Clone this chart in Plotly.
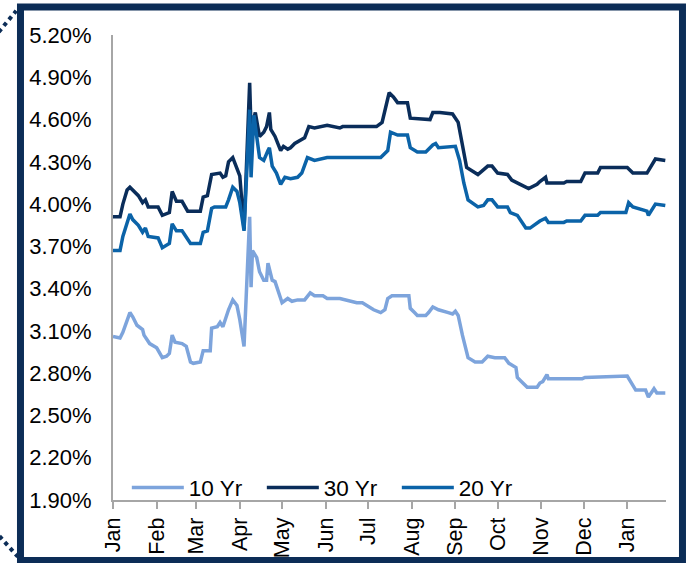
import plotly.graph_objects as go

# ---------------- data ----------------
dates_10y = ["2025-01-01","2025-01-06","2025-01-08","2025-01-11","2025-01-13","2025-01-15","2025-01-18","2025-01-22","2025-01-23","2025-01-27",
             "2025-02-01","2025-02-05","2025-02-08","2025-02-10","2025-02-12","2025-02-14","2025-02-19","2025-02-22","2025-02-25","2025-02-27",
             "2025-03-04","2025-03-06","2025-03-11","2025-03-12","2025-03-16","2025-03-18","2025-03-20","2025-03-24","2025-03-27","2025-03-30",
             "2025-04-01","2025-04-04","2025-04-08","2025-04-09","2025-04-10","2025-04-13","2025-04-15","2025-04-18","2025-04-20","2025-04-21",
             "2025-04-24","2025-04-26","2025-04-28","2025-05-01","2025-05-05","2025-05-08","2025-05-12","2025-05-17","2025-05-21","2025-05-24",
             "2025-05-30","2025-06-02","2025-06-11","2025-06-16","2025-06-23","2025-06-27","2025-07-05","2025-07-10","2025-07-13","2025-07-15",
             "2025-07-18","2025-07-30","2025-07-31","2025-08-03","2025-08-05","2025-08-11","2025-08-13","2025-08-16","2025-08-20","2025-08-27",
             "2025-08-30","2025-09-01","2025-09-03","2025-09-06","2025-09-08","2025-09-10","2025-09-15","2025-09-20","2025-09-24","2025-09-29",
             "2025-10-06","2025-10-09","2025-10-14","2025-10-15","2025-10-18","2025-10-22","2025-10-29","2025-10-31","2025-11-02","2025-11-05",
             "2025-11-06","2025-11-30","2025-12-02","2026-01-01","2026-01-07","2026-01-14","2026-01-16","2026-01-20","2026-01-22","2026-01-28"]
yield_10y = [3.06,3.05,3.09,3.18,3.23,3.20,3.14,3.11,3.07,3.01,
             2.98,2.91,2.92,2.94,3.07,3.02,3.01,2.99,2.88,2.87,
             2.88,2.96,2.96,3.12,3.13,3.16,3.13,3.25,3.32,3.28,
             3.18,2.99,3.91,3.41,3.67,3.62,3.52,3.46,3.46,3.58,
             3.46,3.45,3.39,3.30,3.33,3.31,3.32,3.32,3.37,3.35,
             3.35,3.33,3.33,3.32,3.30,3.30,3.25,3.23,3.25,3.33,
             3.35,3.35,3.26,3.23,3.21,3.21,3.23,3.27,3.25,3.23,
             3.22,3.24,3.21,3.07,2.99,2.91,2.88,2.88,2.92,2.91,
             2.91,2.87,2.84,2.77,2.74,2.70,2.70,2.73,2.74,2.79,
             2.76,2.76,2.77,2.78,2.68,2.68,2.63,2.69,2.66,2.66]

dates_30y = ["2025-01-01","2025-01-06","2025-01-08","2025-01-11","2025-01-13","2025-01-15","2025-01-19","2025-01-22","2025-01-24","2025-01-26",
             "2025-02-02","2025-02-05","2025-02-08","2025-02-10","2025-02-12","2025-02-15","2025-02-19","2025-02-23","2025-03-04","2025-03-06",
             "2025-03-09","2025-03-12","2025-03-18","2025-03-20","2025-03-22","2025-03-24","2025-03-27","2025-03-29","2025-04-01","2025-04-04",
             "2025-04-08","2025-04-09","2025-04-12","2025-04-15","2025-04-18","2025-04-20","2025-04-22","2025-04-23","2025-04-26","2025-04-30",
             "2025-05-02","2025-05-05","2025-05-07","2025-05-10","2025-05-14","2025-05-17","2025-05-20","2025-05-24","2025-06-02","2025-06-11",
             "2025-06-13","2025-07-07","2025-07-11","2025-07-16","2025-07-19","2025-07-22","2025-07-29","2025-07-31","2025-08-14","2025-08-16",
             "2025-08-21","2025-08-30","2025-09-03","2025-09-06","2025-09-09","2025-09-17","2025-09-21","2025-09-24","2025-09-27","2025-10-01",
             "2025-10-08","2025-10-11","2025-10-17","2025-10-23","2025-10-29","2025-10-31","2025-11-04","2025-11-05","2025-11-17","2025-11-19",
             "2025-11-29","2025-12-02","2025-12-11","2025-12-13","2026-01-01","2026-01-05","2026-01-15","2026-01-21","2026-01-28"]
yield_30y = [3.91,3.91,4.00,4.10,4.12,4.10,4.06,4.01,4.03,3.98,
             3.98,3.92,3.93,3.94,4.09,4.02,4.02,3.95,3.95,4.05,
             4.06,4.21,4.22,4.19,4.20,4.30,4.33,4.28,4.20,3.82,
             4.86,4.52,4.65,4.48,4.51,4.55,4.65,4.53,4.48,4.38,
             4.41,4.39,4.40,4.43,4.45,4.47,4.55,4.54,4.56,4.54,
             4.55,4.55,4.58,4.79,4.76,4.72,4.72,4.61,4.60,4.65,
             4.65,4.64,4.58,4.41,4.26,4.21,4.24,4.27,4.27,4.22,
             4.21,4.17,4.14,4.11,4.14,4.16,4.19,4.15,4.15,4.16,
             4.16,4.22,4.22,4.26,4.26,4.22,4.22,4.32,4.31]

dates_20y = ["2025-01-01","2025-01-06","2025-01-08","2025-01-13","2025-01-15","2025-01-19","2025-01-22","2025-01-24","2025-01-26","2025-02-02",
             "2025-02-05","2025-02-08","2025-02-10","2025-02-12","2025-02-15","2025-02-19","2025-02-23","2025-02-25","2025-03-04","2025-03-06",
             "2025-03-09","2025-03-12","2025-03-14","2025-03-22","2025-03-24","2025-03-27","2025-03-30","2025-04-01","2025-04-04","2025-04-08",
             "2025-04-09","2025-04-11","2025-04-15","2025-04-18","2025-04-21","2025-04-22","2025-04-24","2025-04-27","2025-04-30","2025-05-03",
             "2025-05-07","2025-05-12","2025-05-15","2025-05-19","2025-05-24","2025-06-02","2025-07-10","2025-07-15","2025-07-17","2025-07-22",
             "2025-07-29","2025-07-31","2025-08-05","2025-08-11","2025-08-16","2025-08-18","2025-08-20","2025-09-01","2025-09-04","2025-09-07",
             "2025-09-10","2025-09-17","2025-09-21","2025-09-24","2025-09-27","2025-10-01","2025-10-08","2025-10-10","2025-10-15","2025-10-21",
             "2025-10-24","2025-10-29","2025-10-31","2025-11-04","2025-11-06","2025-11-17","2025-11-19","2025-11-29","2025-12-02","2025-12-11",
             "2025-12-13","2025-12-31","2026-01-02","2026-01-05","2026-01-15","2026-01-16","2026-01-21","2026-01-28"]
yield_20y = [3.67,3.67,3.77,3.93,3.89,3.85,3.80,3.83,3.77,3.76,
             3.69,3.71,3.72,3.86,3.81,3.81,3.75,3.72,3.72,3.80,
             3.81,3.97,3.98,3.98,4.03,4.12,4.09,4.01,3.81,4.67,
             4.19,4.63,4.33,4.31,4.38,4.40,4.27,4.22,4.14,4.19,
             4.18,4.19,4.22,4.33,4.31,4.33,4.33,4.38,4.51,4.49,
             4.49,4.40,4.37,4.37,4.42,4.43,4.40,4.41,4.31,4.15,
             4.03,3.98,3.99,4.03,4.03,3.98,3.98,3.94,3.92,3.83,
             3.83,3.87,3.88,3.90,3.87,3.87,3.88,3.88,3.92,3.92,
             3.94,3.94,4.01,3.98,3.95,3.92,4.00,3.99]

series_names = ["10 Yr", "30 Yr", "20 Yr"]
series_colors = ["#7DA4DC", "#0A2D5A", "#0B63A8"]

FONT = "Liberation Sans, Arial, sans-serif"
NAVY = "#0C2D57"
GREY = "#A6A6A6"

fig = go.Figure()
for name, xs, ys, col in zip(series_names,
                             [dates_10y, dates_30y, dates_20y],
                             [yield_10y, yield_30y, yield_20y],
                             series_colors):
    fig.add_trace(go.Scatter(x=xs, y=ys, mode="lines", name=name,
                             line=dict(color=col, width=3.5)))

fig.update_layout(
    width=692, height=563,
    margin=dict(l=113, r=26, t=35, b=63, autoexpand=False),
    paper_bgcolor="white", plot_bgcolor="white",
    font=dict(family=FONT, size=22, color="black"),
    showlegend=True,
    legend=dict(orientation="h", x=0.025, y=0.026, xanchor="left", yanchor="middle",
                bgcolor="rgba(0,0,0,0)", font=dict(size=22.5), itemwidth=52,
                entrywidth=68, tracegroupgap=0),
    xaxis=dict(type="date", range=["2025-01-01", "2026-01-28 12:00"],
               tick0="2025-01-01", dtick="M1", tickformat="%b", tickangle=-90,
               tickfont=dict(size=21.5),
               showline=True, linecolor=GREY, linewidth=2,
               ticks="outside", ticklen=7, tickwidth=2, tickcolor=GREY,
               showgrid=False, zeroline=False, ticklabelstandoff=0, automargin=False),
    yaxis=dict(range=[1.9, 5.2], tick0=1.9, dtick=0.3, tickformat=".2f", ticksuffix="%",
               showline=True, linecolor=GREY, linewidth=2, ticks="",
               showgrid=False, zeroline=False, ticklabelstandoff=15, automargin=False),
)

# frame and decorative dotted corners
fig.add_shape(type="rect", xref="paper", yref="paper",
              x0=-0.1673, x1=1.0298, y0=-0.1301, y1=1.0602,
              line=dict(color=NAVY, width=7), layer="above")
fig.add_shape(type="line", xref="paper", yref="paper",
              x0=-0.225, y0=0.98, x1=-0.175, y1=1.052,
              line=dict(color=NAVY, width=4, dash="dot"))
fig.add_shape(type="line", xref="paper", yref="paper",
              x0=-0.215, y0=-0.065, x1=-0.172, y1=-0.122,
              line=dict(color=NAVY, width=4, dash="dot"))

fig.write_html("out.html", config={"displayModeBar": False},
               post_script="document.body.style.margin='0px';document.body.style.overflow='hidden';")
